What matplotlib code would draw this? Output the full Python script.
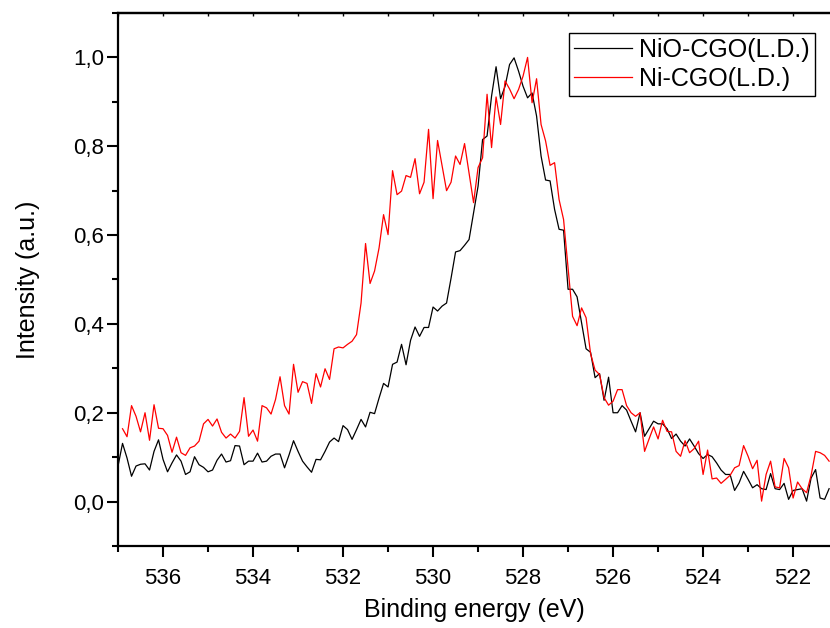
import numpy as np
import matplotlib
matplotlib.use('Agg')
import matplotlib.pyplot as plt
from matplotlib.ticker import MultipleLocator, FuncFormatter

plt.rcParams['font.family'] = ['Liberation Sans', 'DejaVu Sans']

# O 1s spectra, 0.1 eV step
nio_start = 537.0
nio_cgo = [
    0.080, 0.131, 0.098, 0.057, 0.080, 0.084, 0.085, 0.071, 0.113, 0.139,
    0.095, 0.067, 0.087, 0.105, 0.091, 0.061, 0.067, 0.101, 0.083, 0.077,
    0.067, 0.071, 0.093, 0.107, 0.089, 0.092, 0.126, 0.125, 0.083, 0.091,
    0.091, 0.109, 0.089, 0.091, 0.102, 0.107, 0.107, 0.076, 0.105, 0.137,
    0.113, 0.091, 0.078, 0.066, 0.095, 0.094, 0.113, 0.134, 0.143, 0.135,
    0.171, 0.162, 0.140, 0.162, 0.185, 0.168, 0.201, 0.198, 0.233, 0.266,
    0.258, 0.309, 0.314, 0.354, 0.308, 0.363, 0.393, 0.372, 0.392, 0.392,
    0.438, 0.429, 0.440, 0.447, 0.503,
    0.562, 0.565, 0.577, 0.590, 0.650, 0.710, 0.815, 0.823, 0.913, 0.979,
    0.907, 0.935, 0.984, 0.999, 0.969, 0.935, 0.909, 0.920, 0.868, 0.778,
    0.724, 0.722, 0.658, 0.613, 0.611,
    0.478, 0.478, 0.461, 0.402, 0.344, 0.336, 0.279, 0.288, 0.228, 0.280,
    0.200, 0.200, 0.216, 0.206, 0.181, 0.157, 0.200, 0.147, 0.164, 0.181,
    0.175, 0.175, 0.164, 0.142, 0.152, 0.136, 0.125, 0.141, 0.125, 0.108,
    0.097, 0.106, 0.101, 0.087, 0.071, 0.061, 0.061, 0.025, 0.042, 0.068,
    0.050, 0.031, 0.038, 0.029, 0.027, 0.063, 0.029, 0.027, 0.041, 0.005,
    0.025, 0.027, 0.029, 0.001, 0.053, 0.072, 0.008, 0.005, 0.029,
]

ni_start = 536.9
ni_cgo = [
    0.164, 0.146, 0.216, 0.192, 0.157, 0.200, 0.138, 0.218, 0.165, 0.164,
    0.149, 0.111, 0.145, 0.110, 0.104, 0.121, 0.125, 0.136, 0.175, 0.185,
    0.170, 0.186, 0.156, 0.143, 0.152, 0.143, 0.158, 0.234, 0.147, 0.161,
    0.136, 0.216,
    0.211, 0.197, 0.230, 0.281, 0.216, 0.197, 0.309, 0.246, 0.270, 0.266,
    0.221, 0.288, 0.258, 0.299, 0.275, 0.344, 0.348, 0.346, 0.354, 0.361,
    0.376,
    0.447, 0.581, 0.491, 0.519, 0.571, 0.646, 0.601, 0.745, 0.691, 0.699,
    0.734, 0.730, 0.772, 0.693, 0.719, 0.838, 0.682, 0.813, 0.757, 0.700,
    0.719, 0.778, 0.759, 0.806, 0.740, 0.673, 0.752, 0.774, 0.917, 0.797,
    0.911, 0.849, 0.947, 0.929, 0.907, 0.928, 0.958, 1.000, 0.898, 0.952,
    0.849, 0.812, 0.757, 0.763,
    0.680, 0.635, 0.526,
    0.417, 0.396, 0.436, 0.414, 0.333, 0.296, 0.286, 0.234, 0.217, 0.226,
    0.252, 0.252, 0.216, 0.200, 0.192, 0.200, 0.113, 0.141, 0.168, 0.141,
    0.183, 0.158, 0.157, 0.113, 0.102, 0.137, 0.110, 0.119, 0.136, 0.061,
    0.116, 0.051, 0.053, 0.041, 0.050, 0.059, 0.076, 0.081, 0.126, 0.102,
    0.074, 0.093, 0.001, 0.061, 0.091, 0.033, 0.031, 0.097, 0.076, 0.008,
    0.044, 0.029, 0.020, 0.059, 0.113, 0.110, 0.104, 0.091,
]

step = 0.1
e_nio = nio_start - step * np.arange(len(nio_cgo))
e_ni = ni_start - step * np.arange(len(ni_cgo))

fig = plt.figure(figsize=(8.3, 6.28), dpi=100)
ax = fig.add_axes([0.1422, 0.1306, 0.8578, 0.8487])

ax.plot(e_nio, nio_cgo, color='black', lw=0.9, label='NiO-CGO(L.D.)')
ax.plot(e_ni, ni_cgo, color='#ff0000', lw=0.9, label='Ni-CGO(L.D.)')

ax.set_xlim(537.0, 521.18)
ax.set_ylim(-0.1, 1.1)

ax.xaxis.set_major_locator(MultipleLocator(2))
ax.xaxis.set_minor_locator(MultipleLocator(1))
ax.yaxis.set_major_locator(MultipleLocator(0.2))
ax.yaxis.set_minor_locator(MultipleLocator(0.1))
ax.yaxis.set_major_formatter(FuncFormatter(lambda v, p: f'{v:.1f}'.replace('.', ',').replace('-0,0', '0,0')))

ax.tick_params(which='major', direction='out', length=8, width=1.5, labelsize=16)
ax.tick_params(which='minor', direction='out', length=4, width=1.5)
ax.tick_params(axis='x', pad=8)
ax.tick_params(axis='y', pad=2)

for side in ['left', 'bottom', 'top']:
    ax.spines[side].set_linewidth(1.6)
ax.spines['right'].set_visible(False)

top = ax.secondary_xaxis('top')
top.xaxis.set_major_locator(MultipleLocator(2))
top.xaxis.set_minor_locator(MultipleLocator(1))
top.tick_params(which='both', direction='in', length=2.5, width=1.0, labeltop=False)
top.spines['top'].set_linewidth(1.6)

ax.set_xlabel('Binding energy (eV)', fontsize=18, labelpad=6)
ax.set_ylabel('Intensity (a.u.)', fontsize=18, labelpad=24)

leg = ax.legend(loc='upper right', bbox_to_anchor=(0.982, 0.9475),
                bbox_transform=fig.transFigure, fontsize=18, frameon=True,
                fancybox=False, framealpha=1, edgecolor='black',
                handlelength=2.3, handletextpad=0.3, borderpad=0.2,
                labelspacing=0.2, borderaxespad=0)
leg.get_frame().set_linewidth(1.0)

fig.savefig('out.png', dpi=100)
